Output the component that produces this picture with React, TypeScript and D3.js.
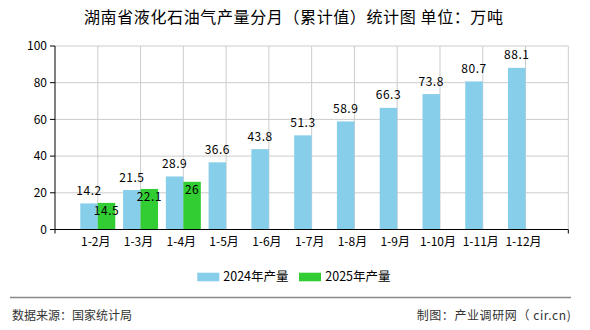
import React from "react";
import * as d3 from "d3";

const categories = ["1-2月", "1-3月", "1-4月", "1-5月", "1-6月", "1-7月", "1-8月", "1-9月", "1-10月", "1-11月", "1-12月"];
const values2024 = [14.2, 21.5, 28.9, 36.6, 43.8, 51.3, 58.9, 66.3, 73.8, 80.7, 88.1];
const values2025 = [14.5, 22.1, 26];
const yTicks = [0, 20, 40, 60, 80, 100];
const seriesNames = ["2024年产量", "2025年产量"];
const title = "湖南省液化石油气产量分月（累计值）统计图 单位：万吨";
const sourceText = "数据来源：国家统计局";
const creditText = "制图：产业调研网（ cir.cn)";

const W = 590;
const H = 330;
const left = 55;
const right = 568.3;
const top = 46;
const bottom = 229.5;
const BLUE = "#87CEEB";
const GREEN = "#32CD32";
const FONT = "'Noto Sans CJK SC', 'DejaVu Sans', sans-serif";

export default function App() {
  const x = d3
    .scalePoint<string>()
    .domain(categories)
    .range([left, right])
    .padding(1);
  const y = d3.scaleLinear().domain([0, 100]).range([bottom, top]);
  const bw = 17.5;

  return (
    <svg width={W} height={H} style={{ position: "absolute", left: 0, top: 0 }} fontFamily={FONT}>
      <rect x={0} y={0} width={W} height={H} fill="#fff" />
      <text x={293.5} y={23} textAnchor="middle" fontSize={16} textLength={419} lengthAdjust="spacing" fill="#000">
        {title}
      </text>

      {/* horizontal grid */}
      {yTicks.map((t) => (
        <line key={"h" + t} x1={left} x2={right} y1={y(t)} y2={y(t)} stroke="#ccc" strokeWidth={1} />
      ))}
      {/* vertical grid */}
      {categories.map((c) => (
        <line key={"v" + c} x1={x(c)!} x2={x(c)!} y1={top} y2={bottom} stroke="#ccc" strokeWidth={1} />
      ))}
      <line x1={right} x2={right} y1={top} y2={bottom} stroke="#ccc" strokeWidth={1} />

      {/* bars */}
      {values2024.map((v, i) => (
        <rect key={"b" + i} x={x(categories[i])! - bw} y={y(v)} width={bw} height={bottom - y(v)} fill={BLUE} />
      ))}
      {values2025.map((v, i) => (
        <rect key={"g" + i} x={x(categories[i])!} y={y(v)} width={bw} height={bottom - y(v)} fill={GREEN} />
      ))}

      {/* labels */}
      {values2024.map((v, i) => (
        <text key={"lb" + i} x={x(categories[i])! - bw / 2} y={y(v) - 8.5} textAnchor="middle" fontSize={12} letterSpacing={0.5} fill="#000">
          {String(v)}
        </text>
      ))}
      {values2025.map((v, i) => (
        <text key={"lg" + i} x={x(categories[i])! + bw / 2} y={y(v) + 12} textAnchor="middle" fontSize={12} letterSpacing={0.5} fill="#000">
          {String(v)}
        </text>
      ))}

      {/* axes */}
      <line x1={left} x2={left} y1={top} y2={bottom} stroke="#000" strokeWidth={1} />
      <line x1={left} x2={right} y1={bottom} y2={bottom} stroke="#000" strokeWidth={1} />
      <line x1={left} x2={left} y1={bottom} y2={bottom + 4} stroke="#000" />
      <line x1={right} x2={right} y1={bottom} y2={bottom + 4} stroke="#000" />
      {yTicks.map((t) => (
        <g key={"yt" + t}>
          <line x1={left - 5} x2={left} y1={y(t)} y2={y(t)} stroke="#000" />
          <text x={47} y={y(t)} dy="0.35em" textAnchor="end" fontSize={12} fill="#000">
            {t}
          </text>
        </g>
      ))}
      {categories.map((c) => (
        <text key={"xl" + c} x={x(c)! - 2} y={246} textAnchor="middle" fontSize={12} fill="#000">
          {c}
        </text>
      ))}

      {/* legend */}
      <rect x={197.3} y={272.7} width={22} height={8.6} fill={BLUE} />
      <text x={223.3} y={277} dy="0.35em" fontSize={12.5} fill="#000">
        {seriesNames[0]}
      </text>
      <rect x={299} y={272.7} width={22} height={8.6} fill={GREEN} />
      <text x={325.3} y={277} dy="0.35em" fontSize={12.5} fill="#000">
        {seriesNames[1]}
      </text>

      {/* footer */}
      <line x1={10} x2={571} y1={297.5} y2={297.5} stroke="#888" strokeWidth={1.5} />
      <text x={12} y={316} dy="0.35em" fontSize={12} fill="#333">
        {sourceText}
      </text>
      <text x={416.7} y={316} dy="0.35em" fontSize={12} textLength={154} lengthAdjust="spacing" fill="#333">
        {creditText}
      </text>
    </svg>
  );
}
